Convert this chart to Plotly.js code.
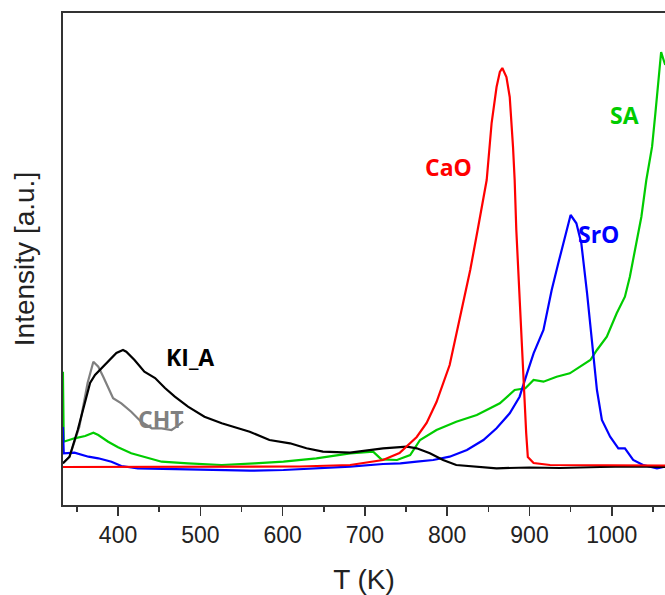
<!DOCTYPE html>
<html>
<head>
<meta charset="utf-8">
<script src="https://cdn.plot.ly/plotly-3.0.1.min.js"></script>
<style>html,body{margin:0;padding:0;background:#fff;}#chart{width:665px;height:595px;}</style>
</head>
<body>
<div id="chart"></div>
<script>
// Temperature (K) and intensity (a.u.)
const cao_T = [333,378,438,499,560,621,682,722,742,763,775,787,803,815,828,837,848,854,860,864,867,872,876,880,882,884,888,892,894,896,898,905,925,986,1065];
const cao_I = [38,38,38,38,38,38.5,40,45,52,68,82,103,140,185,235,275,325,382,418,433,437,428,408,358,325,275,205,138,105,72,48,42,40,39.5,39.5];

const kia_T = [333,341,351,360,366,372,380,388,398,406,410,420,432,445,457,469,485,505,526,546,560,584,609,629,649,682,702,722,751,763,779,795,811,836,860,900,937,986,1022,1065];
const kia_I = [41.7,48.3,75,102,122,130,137,143.3,152,155,153.3,145,133.3,127,117,108.3,98.3,88.3,81.7,76.7,73.3,65,61.7,56.7,53.3,52.3,54.3,56.7,58.3,56.7,51.7,45,40,38.3,36.7,37.5,37,38,38.5,38];

const cht_T = [333,341,353,363,370,376,382,388,394,404,416,428,441,453,465,471,479];
const cht_I = [41.7,48,78.3,122,143.3,138.3,128.3,117,106.7,101.7,93.3,83.3,76.7,76.7,75,78.3,83.3];

const sa_T = [333,334,347,360,370,376,388,400,416,437,453,485,526,566,601,641,682,710,720,739,755,767,787,811,836,864,882,895,905,917,933,949,961,974,982,994,1006,1016,1022,1030,1036,1042,1049,1053,1057,1060,1063,1065];
const sa_I = [133.3,63.3,66.7,69,72.3,70,63.3,57.7,51.7,46.7,43.3,41.7,40,41.7,43.3,46.7,51.7,53.3,45.7,45,50,65,75,83.3,90,101.7,115,116.7,125,123.3,128.3,131.7,138.3,145,155,168.3,191.7,208.3,228.3,265,288.3,325,358.3,391.7,431.7,453,445,440];

const sro_T = [333,334,347,353,364,376,392,404,424,485,560,601,641,682,722,743,763,783,803,824,844,860,876,888,897,905,917,927,935,943,950,957,963,970,976,982,988,998,1008,1016,1026,1038,1055,1065];
const sro_I = [78,51.7,52.3,51,48.3,46.7,43.3,39,36.7,35.7,34.3,35,36.7,38.3,41,41.7,43.3,45,48.3,55,65,76.7,91.7,108.3,131.7,151.7,175,215,241.7,268.3,290,281.7,261.7,211.7,161.7,115,85,68.3,56.7,56.7,45,40,36.7,38.3];

const labels = ["KI_A","CHT","CaO","SA","SrO"];
const labelT = [487,452,801,1015,984];
const labelI = [148,86,338,390,271];
const labelColors = ["#000000","#808080","#ff0000","#00cc00","#0000ff"];

const xTitle = "T (K)";
const yTitle = "Intensity [a.u.]";

const lineW = 2.2;
const traces = [
  {x: cht_T, y: cht_I, name: "CHT", mode: "lines", line: {color: "#808080", width: lineW}},
  {x: sa_T, y: sa_I, name: "SA", mode: "lines", line: {color: "#00cc00", width: lineW}},
  {x: sro_T, y: sro_I, name: "SrO", mode: "lines", line: {color: "#0000ff", width: lineW}},
  {x: kia_T, y: kia_I, name: "KI_A", mode: "lines", line: {color: "#000000", width: lineW}},
  {x: cao_T, y: cao_I, name: "CaO", mode: "lines", line: {color: "#ff0000", width: lineW}}
];

const annotations = labels.map((t, i) => ({
  x: labelT[i], y: labelI[i], xref: "x", yref: "y", text: "<b>" + t + "</b>",
  showarrow: false, font: {family: "Open Sans, sans-serif", size: 23, color: labelColors[i]},
  xanchor: "center", yanchor: "middle"
}));

const layout = {
  width: 665, height: 595,
  margin: {l: 63, r: 0, t: 13, b: 90},
  paper_bgcolor: "#ffffff", plot_bgcolor: "#ffffff",
  showlegend: false,
  font: {family: "Liberation Sans, Arial, sans-serif", color: "#222"},
  xaxis: {
    range: [333.1, 1064.7], tick0: 0, dtick: 100,
    ticks: "outside", ticklen: 9, tickwidth: 1.5, tickcolor: "#333",
    minor: {dtick: 50, ticks: "outside", ticklen: 5, tickwidth: 1.5, tickcolor: "#333"},
    showline: true, linecolor: "#333", linewidth: 1.8, mirror: true,
    showgrid: false, zeroline: false,
    tickfont: {size: 23, color: "#222"},
    title: {text: xTitle, font: {size: 28, color: "#222"}, standoff: 22}
  },
  yaxis: {
    range: [0, 492], showticklabels: false, ticks: "",
    showline: true, linecolor: "#333", linewidth: 1.8, mirror: false,
    showgrid: false, zeroline: false,
    title: {text: yTitle, font: {size: 28, color: "#222"}, standoff: 18}
  },
  annotations: annotations
};

Plotly.newPlot("chart", traces, layout, {displayModeBar: false, staticPlot: true});
</script>
</body>
</html>
